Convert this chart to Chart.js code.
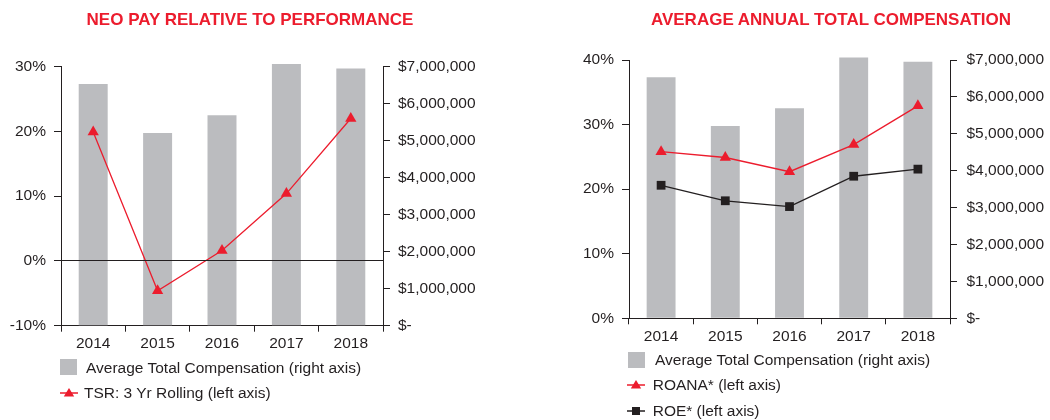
<!DOCTYPE html>
<html>
<head>
<meta charset="utf-8">
<script src="https://cdn.jsdelivr.net/npm/chart.js@4.4.1/dist/chart.umd.min.js"></script>
<style>
  html, body { margin: 0; padding: 0; background: #fff; }
  #wrap { position: relative; width: 1050px; height: 420px; overflow: hidden; font-family: "Liberation Sans", Arial, sans-serif; color: #231f20; }
  canvas { position: absolute; top: 0; }
  .title { position: absolute; font-weight: bold; font-size: 17px; line-height: 20px; height: 20px; color: #ec1c2d; text-align: center; white-space: nowrap; }
  .lg { position: absolute; font-size: 15.5px; line-height: 20px; height: 20px; white-space: nowrap; }
  .sq { position: absolute; width: 17px; height: 16px; background: #bbbcbf; }
  .mk { position: absolute; }
</style>
</head>
<body>
<div id="wrap">
  <canvas id="c1" width="525" height="420" style="left:0px;width:525px;height:420px"></canvas>
  <canvas id="c2" width="525" height="420" style="left:525px;width:525px;height:420px"></canvas>

  <div class="title" style="left:50px;width:400px;top:9.7px">NEO PAY RELATIVE TO PERFORMANCE</div>
  <div class="title" style="left:631px;width:400px;top:9.7px">AVERAGE ANNUAL TOTAL COMPENSATION</div>

  <div class="sq" style="left:60px;top:359px"></div>
  <div class="lg" style="left:86px;top:357.7px">Average Total Compensation (right axis)</div>
  <svg class="mk" style="left:60px;top:387px" width="18" height="12"><line x1="0" y1="6" x2="18" y2="6" stroke="#ec1c2d" stroke-width="1.5"/><polygon points="9,1 14.2,9.5 3.8,9.5" fill="#ec1c2d"/></svg>
  <div class="lg" style="left:84px;top:383px">TSR: 3 Yr Rolling (left axis)</div>

  <div class="sq" style="left:627.7px;top:351.7px"></div>
  <div class="lg" style="left:655px;top:350px">Average Total Compensation (right axis)</div>
  <svg class="mk" style="left:627px;top:378.5px" width="18" height="12"><line x1="0" y1="6" x2="18" y2="6" stroke="#ec1c2d" stroke-width="1.5"/><polygon points="9,1 14.2,9.5 3.8,9.5" fill="#ec1c2d"/></svg>
  <div class="lg" style="left:652.7px;top:374.5px">ROANA* (left axis)</div>
  <svg class="mk" style="left:627px;top:405px" width="18" height="12"><line x1="0" y1="6" x2="18" y2="6" stroke="#231f20" stroke-width="1.5"/><rect x="5" y="2" width="8" height="8" fill="#231f20"/></svg>
  <div class="lg" style="left:652.7px;top:401px">ROE* (left axis)</div>
</div>
<script>
// ---- Data ----
const years = ['2014', '2015', '2016', '2017', '2018'];
const avgComp = [6530000, 5210000, 5690000, 7070000, 6950000];   // right axis ($)
const tsr3yr = [19.9, -4.6, 1.6, 10.4, 22.0];                      // left chart, left axis (%)
const roana = [25.8, 24.9, 22.7, 26.9, 32.9];                      // right chart, left axis (%)
const roe = [20.6, 18.2, 17.3, 22.0, 23.1];                        // right chart, left axis (%)
const leftPctRange1 = [-10, 30];
const leftPctRange2 = [0, 40];
const dollarRange = [0, 7000000];

// ---- Styles ----
const DARK = '#231f20';
const RED = '#ec1c2d';
const GRAY = '#bbbcbf';
const FONT = { family: '"Liberation Sans", Arial, sans-serif', size: 15.5 };

const pctFmt = v => v + '%';
const dollarFmt = v => v === 0 ? '$-' : '$' + Number(v).toLocaleString('en-US');

function xScale() {
  return {
    type: 'category',
    grid: { offset: true, drawOnChartArea: false, drawTicks: true, tickLength: 6, tickColor: DARK, color: DARK },
    border: { color: DARK, width: 1 },
    ticks: { color: DARK, font: FONT, padding: 3, maxRotation: 0, autoSkip: false },
    afterFit: s => { s.height = 30; }
  };
}
function leftScale(range, zeroLine, width) {
  return {
    type: 'linear', position: 'left', min: range[0], max: range[1],
    ticks: { stepSize: 10, callback: pctFmt, color: DARK, font: FONT, padding: 8 },
    grid: {
      drawOnChartArea: zeroLine, z: 1,
      color: c => (zeroLine && c.tick && c.tick.value === 0) ? DARK : 'rgba(0,0,0,0)',
      tickColor: DARK, tickLength: 7, lineWidth: 1
    },
    border: { color: DARK, width: 1, z: 2 },
    afterFit: s => { s.width = width; }
  };
}
function rightScale(width, pad) {
  return {
    type: 'linear', position: 'right', min: dollarRange[0], max: dollarRange[1],
    ticks: { stepSize: 1000000, callback: dollarFmt, color: DARK, font: FONT, padding: pad },
    grid: { drawOnChartArea: false, tickColor: DARK, tickLength: 7, z: 1 },
    border: { color: DARK, width: 1, z: 2 },
    afterFit: s => { s.width = width; }
  };
}
function barDataset() {
  return {
    type: 'bar', label: 'Average Total Compensation (right axis)', data: avgComp,
    yAxisID: 'y1', backgroundColor: GRAY, borderWidth: 0,
    barPercentage: 0.45, categoryPercentage: 1, order: 2, clip: false
  };
}
function lineDataset(label, data, color, style, radius) {
  return {
    type: 'line', label: label, data: data, yAxisID: 'y',
    borderColor: color, borderWidth: 1.3, backgroundColor: color,
    pointStyle: style, pointRadius: radius, pointHoverRadius: radius,
    pointBackgroundColor: color, pointBorderColor: color, pointBorderWidth: 0,
    tension: 0, order: 1, clip: false
  };
}
const common = {
  responsive: false, animation: false, devicePixelRatio: 1,
  plugins: { legend: { display: false }, tooltip: { enabled: false }, title: { display: false } }
};

new Chart(document.getElementById('c1'), {
  data: {
    labels: years,
    datasets: [barDataset(), lineDataset('TSR: 3 Yr Rolling (left axis)', tsr3yr, RED, 'triangle', 6.5)]
  },
  options: Object.assign({}, common, {
    layout: { padding: { top: 66.7, bottom: 64.3, left: 0, right: 0 } },
    scales: { x: xScale(), y: leftScale(leftPctRange1, true, 61), y1: rightScale(142, 8) }
  })
});

new Chart(document.getElementById('c2'), {
  data: {
    labels: years,
    datasets: [
      barDataset(),
      lineDataset('ROANA* (left axis)', roana, RED, 'triangle', 6.5),
      lineDataset('ROE* (left axis)', roe, DARK, 'rect', 6.2)
    ]
  },
  options: Object.assign({}, common, {
    layout: { padding: { top: 60, bottom: 71.7, left: 0, right: 0 } },
    scales: { x: xScale(), y: leftScale(leftPctRange2, false, 104), y1: rightScale(100, 9.5) }
  })
});
</script>
</body>
</html>
